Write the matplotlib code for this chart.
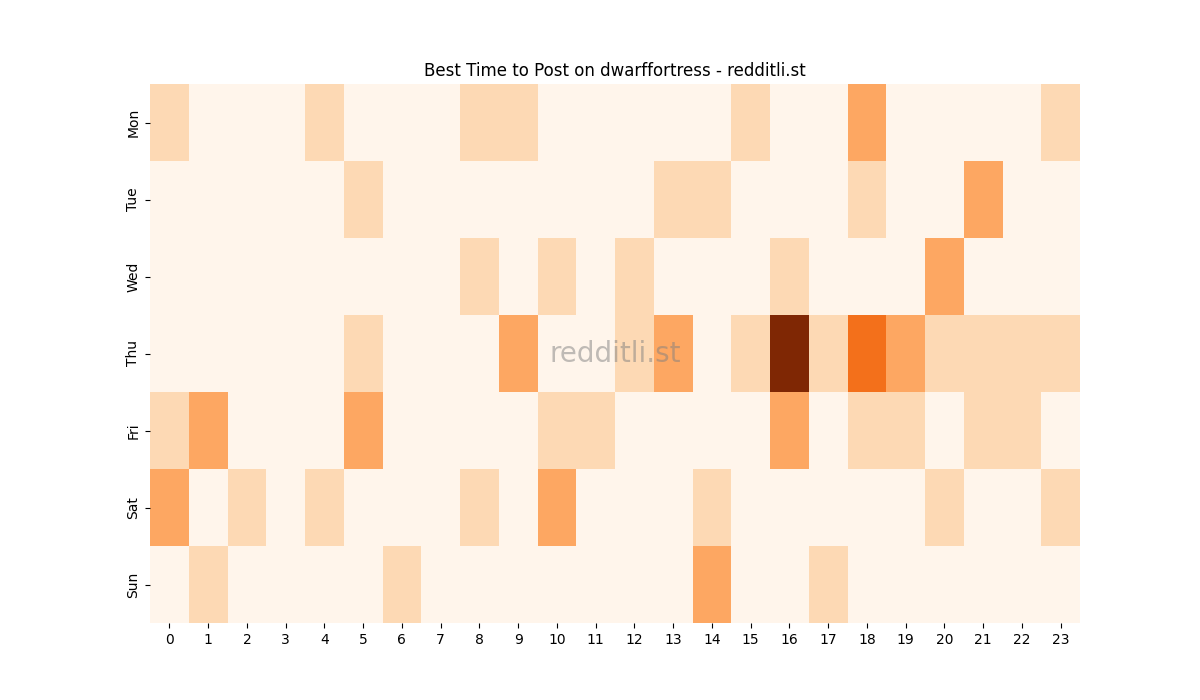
import matplotlib
matplotlib.use("Agg")
import matplotlib.pyplot as plt
import seaborn as sns
import numpy as np

days = ["Mon", "Tue", "Wed", "Thu", "Fri", "Sat", "Sun"]
hours = list(range(24))

mon = [1,0,0,0,1,0,0,0,1,1,0,0,0,0,0,1,0,0,2,0,0,0,0,1]
tue = [0,0,0,0,0,1,0,0,0,0,0,0,0,1,1,0,0,0,1,0,0,2,0,0]
wed = [0,0,0,0,0,0,0,0,1,0,1,0,1,0,0,0,1,0,0,0,2,0,0,0]
thu = [0,0,0,0,0,1,0,0,0,2,0,0,1,2,0,1,5,1,3,2,1,1,1,1]
fri = [1,2,0,0,0,2,0,0,0,0,1,1,0,0,0,0,2,0,1,1,0,1,1,0]
sat = [2,0,1,0,1,0,0,0,1,0,2,0,0,0,1,0,0,0,0,0,1,0,0,1]
sun = [0,1,0,0,0,0,1,0,0,0,0,0,0,0,2,0,0,1,0,0,0,0,0,0]

data = np.array([mon, tue, wed, thu, fri, sat, sun])

fig, ax = plt.subplots(figsize=(12, 7), dpi=100)
sns.heatmap(data, cmap="Oranges", cbar=False, ax=ax,
            xticklabels=hours, yticklabels=days)
ax.set_title("Best Time to Post on dwarffortress - redditli.st")
ax.text(0.5, 0.5, "redditli.st", transform=ax.transAxes, fontsize=20,
        color="grey", alpha=0.5, ha="center", va="center")
fig.savefig("out.png")
